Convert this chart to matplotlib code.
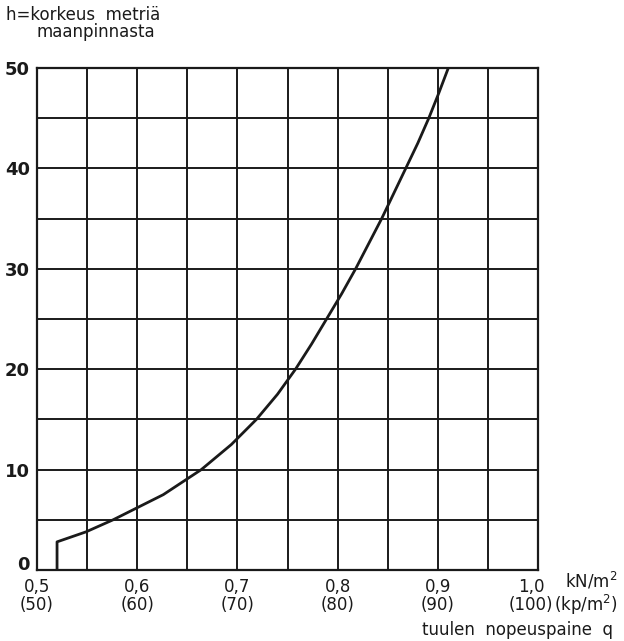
import matplotlib.pyplot as plt
import numpy as np

# Curve: wind pressure q (kN/m2) vs height h (m)
q_values = [0.520, 0.520, 0.549, 0.576, 0.626, 0.664, 0.694, 0.719, 0.740,
            0.758, 0.774, 0.789, 0.804, 0.818, 0.831, 0.844, 0.856, 0.868,
            0.880, 0.891, 0.901, 0.9105]
h_values = [0, 2.8, 3.8, 5.0, 7.5, 10.0, 12.5, 15.0, 17.5,
            20.0, 22.5, 25.0, 27.5, 30.0, 32.5, 35.0, 37.5, 40.0,
            42.5, 45.0, 47.5, 50.0]

x_ticks = [0.5, 0.6, 0.7, 0.8, 0.9, 1.0]
x_tick_labels = ['0,5\n(50)', '0,6\n(60)', '0,7\n(70)', '0,8\n(80)', '0,9\n(90)', '1,0\n(100)']
y_ticks = [0, 10, 20, 30, 40, 50]

plt.rcParams['font.family'] = ['DejaVu Sans']
ink = '#1a1a1a'

fig = plt.figure(figsize=(6.24, 6.41), dpi=100)
ax = fig.add_axes([0.0593, 0.1108, 0.8029, 0.7832])

# Grid
for gx in np.arange(0.5, 1.0001, 0.05):
    ax.axvline(gx, color=ink, lw=1.4, zorder=1)
for gy in np.arange(0, 50.001, 5):
    ax.axhline(gy, color=ink, lw=1.4, zorder=1)

# Curve
ax.plot(q_values, h_values, color=ink, lw=2.0, zorder=3,
        solid_joinstyle='round', solid_capstyle='round')

ax.set_xlim(0.5, 1.0)
ax.set_ylim(0, 50)
for s in ax.spines.values():
    s.set_linewidth(1.6)
    s.set_color(ink)

# x labels: the last one sits a little left of its gridline, as in the original
ax.set_xticks(x_ticks[:-1])
ax.set_xticklabels(x_tick_labels[:-1], fontsize=12, linespacing=1.0)
ax.text(x_ticks[-1] - 0.007, -0.016, x_tick_labels[-1], transform=ax.get_xaxis_transform(),
        fontsize=12, ha='center', va='top', linespacing=1.0, color=ink)
ax.set_yticks(y_ticks)
ax.set_yticklabels([str(v) for v in y_ticks], fontsize=13, fontweight='bold')
ax.get_yticklabels()[0].set_verticalalignment('baseline')
ax.tick_params(axis='x', length=0, pad=6, colors=ink)
ax.tick_params(axis='y', length=0, pad=5, colors=ink)

# Units and axis titles
fig.text(0.905, 0.093, 'kN/m$^2$', fontsize=12, ha='left', va='center', color=ink)
fig.text(0.888, 0.057, '(kp/m$^2$)', fontsize=12, ha='left', va='center', color=ink)
fig.text(0.982, 0.017, 'tuulen  nopeuspaine  q', fontsize=12, ha='right', va='center',
         color=ink)
fig.text(0.01, 0.977, 'h=korkeus  metriä', fontsize=12, ha='left', va='center', color=ink)
fig.text(0.058, 0.950, 'maanpinnasta', fontsize=12, ha='left', va='center', color=ink)

fig.savefig('out.png', dpi=100, facecolor='white')
